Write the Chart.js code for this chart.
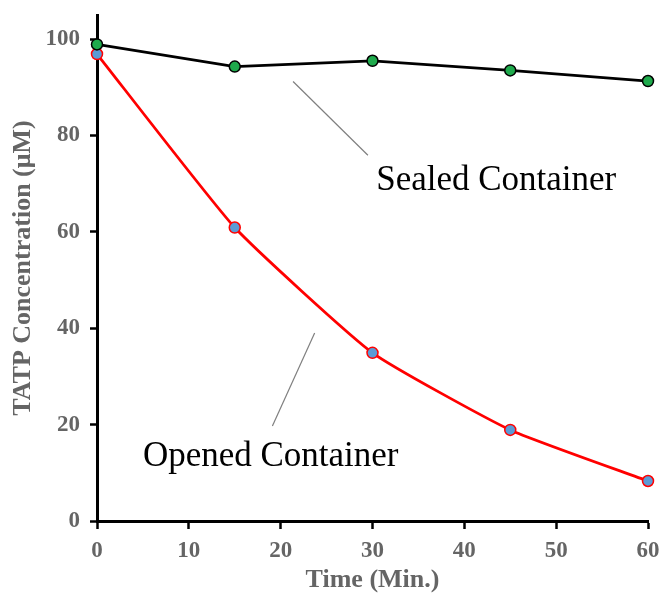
<!DOCTYPE html>
<html>
<head>
<meta charset="utf-8">
<script src="https://cdn.jsdelivr.net/npm/chart.js@4"></script>
<style>
  html, body { margin: 0; padding: 0; background: #fff; }
  #wrap { width: 662px; height: 596px; }
</style>
</head>
<body>
<div id="wrap"><canvas id="tatpChart" width="662" height="596"></canvas></div>
<script>
// Data
const timePoints = [0, 15, 30, 45, 60];
const sealedValues = [98.9, 94.3, 95.5, 93.5, 91.3];
const openedValues = [96.9, 60.9, 34.9, 18.9, 8.3];
const xTickStep = 10;
const yTickStep = 20;

// Text labels with leader lines, placed in data units
const callouts = [
    { text: 'Sealed Container', x: 30.4, y: 68.6, line: [21.35, 91.2, 29.5, 75.9] },
    { text: 'Opened Container', x: 5.0, y: 11.4, line: [23.7, 39.0, 19.1, 19.7] }
];

const greyText = '#656565';

// Draws the callout texts and their thin grey leader lines
const calloutPlugin = {
    id: 'callouts',
    afterDatasetsDraw(chart) {
        const ctx = chart.ctx;
        const xs = chart.scales.x;
        const ys = chart.scales.y;
        ctx.save();
        callouts.forEach(c => {
            ctx.strokeStyle = '#7f7f7f';
            ctx.lineWidth = 1.2;
            ctx.beginPath();
            ctx.moveTo(xs.getPixelForValue(c.line[0]), ys.getPixelForValue(c.line[1]));
            ctx.lineTo(xs.getPixelForValue(c.line[2]), ys.getPixelForValue(c.line[3]));
            ctx.stroke();

            ctx.fillStyle = '#000';
            ctx.font = '35px "Liberation Serif", "Times New Roman", serif';
            ctx.textAlign = 'left';
            ctx.textBaseline = 'alphabetic';
            ctx.fillText(c.text, xs.getPixelForValue(c.x), ys.getPixelForValue(c.y));
        });
        ctx.restore();
    }
};

const tickFont = { family: '"Liberation Serif", "Times New Roman", serif', size: 23, weight: 'bold' };
const titleFont = { family: '"Liberation Serif", "Times New Roman", serif', size: 26, weight: 'bold' };

const ctx = document.getElementById('tatpChart').getContext('2d');
new Chart(ctx, {
    type: 'line',
    data: {
        datasets: [
            {
                label: 'Sealed Container',
                data: timePoints.map((t, i) => ({ x: t, y: sealedValues[i] })),
                borderColor: '#000000',
                borderWidth: 2.8,
                backgroundColor: '#1faa4c',
                pointBackgroundColor: '#1faa4c',
                pointBorderColor: '#000000',
                pointBorderWidth: 1.5,
                pointRadius: 5.5,
                tension: 0,
                clip: false
            },
            {
                label: 'Opened Container',
                data: timePoints.map((t, i) => ({ x: t, y: openedValues[i] })),
                borderColor: '#ff0000',
                borderWidth: 2.8,
                backgroundColor: '#5b9bd5',
                pointBackgroundColor: '#5b9bd5',
                pointBorderColor: '#ff0000',
                pointBorderWidth: 1.5,
                pointRadius: 5.5,
                tension: 0.15,
                clip: false
            }
        ]
    },
    options: {
        responsive: false,
        animation: false,
        layout: { padding: { top: 15, right: 14, left: 0, bottom: 0 } },
        plugins: {
            legend: { display: false },
            tooltip: { enabled: false }
        },
        scales: {
            x: {
                type: 'linear',
                min: 0,
                max: 60,
                afterFit: scale => {
                    scale.height = 75;
                    scale.paddingLeft = 0;
                    scale.paddingRight = 0;
                },
                ticks: {
                    stepSize: xTickStep,
                    includeBounds: false,
                    color: greyText,
                    font: tickFont,
                    padding: 8,
                    maxRotation: 0
                },
                grid: {
                    display: true,
                    drawOnChartArea: false,
                    drawTicks: true,
                    tickLength: 8,
                    tickWidth: 2.5,
                    tickColor: '#000'
                },
                border: { display: true, color: '#000', width: 3 },
                title: {
                    display: true,
                    text: 'Time (Min.)',
                    color: greyText,
                    font: titleFont,
                    padding: { top: 0, bottom: 0 }
                }
            },
            y: {
                min: 0,
                max: 105,
                afterFit: scale => {
                    scale.width = 97;
                    scale.paddingTop = 0;
                    scale.paddingBottom = 0;
                },
                ticks: {
                    stepSize: yTickStep,
                    includeBounds: false,
                    color: greyText,
                    font: tickFont,
                    padding: 10
                },
                grid: {
                    display: true,
                    drawOnChartArea: false,
                    drawTicks: true,
                    tickLength: 7,
                    tickWidth: 2.5,
                    tickColor: '#000'
                },
                border: { display: true, color: '#000', width: 3 },
                title: {
                    display: true,
                    text: 'TATP Concentration (μM)',
                    color: greyText,
                    font: titleFont,
                    padding: { top: 8, bottom: 0 }
                }
            }
        }
    },
    plugins: [calloutPlugin]
});
</script>
</body>
</html>
